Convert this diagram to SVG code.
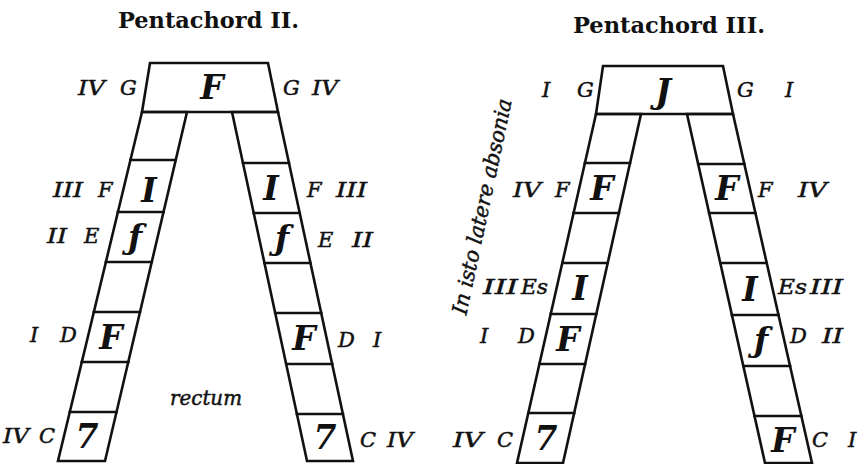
<svg xmlns="http://www.w3.org/2000/svg" width="868" height="464" viewBox="0 0 868 464">
<style>
.bg{fill:#fff}
.ln{fill:none;stroke:#111;stroke-width:2.6;stroke-linejoin:miter;stroke-linecap:square}
.title{font-family:"DejaVu Serif","Liberation Serif",serif;font-weight:bold;font-size:22px;fill:#111}
.lbl{font-family:"DejaVu Serif","Liberation Serif",serif;font-style:italic;font-size:21px;fill:#111;stroke:#111;stroke-width:0.5}
.gl{font-family:"DejaVu Serif","Liberation Serif",serif;font-style:italic;font-weight:bold;font-size:33px;fill:#111;text-anchor:middle}
</style>
<rect class="bg" x="0" y="0" width="868" height="464"/>

<g id="pentachord-II">
  <text class="title" x="118" y="28" textLength="181" lengthAdjust="spacingAndGlyphs">Pentachord II.</text>
  <g id="p2-frame">
    <polygon class="ln" points="150,63 268,63 278,112 142,112"/>
    <polygon class="ln" points="142,112 187,112 105,461 58,461"/>
    <polygon class="ln" points="232,112 278,112 353,461 307,461"/>
    <path class="ln" d="M130.4,160H175.7M117.9,212H163.5M105.9,262H151.8M93.9,312H140M81.8,362H128.3M69.8,412H116.5"/>
    <path class="ln" d="M243,163H289M253.7,213H299.7M264.4,263H310.4M275.2,313H321.2M286.2,364H332.2M296.9,414H342.9"/>
  </g>
  <g id="p2-glyphs">
    <text class="gl" x="212" y="99">F</text>
    <text class="gl" x="149" y="202">I</text>
    <text class="gl" x="135" y="249">ƒ</text>
    <text class="gl" x="111" y="349">F</text>
    <text class="gl" x="87" y="448">7</text>
    <text class="gl" x="271" y="200">I</text>
    <text class="gl" x="282" y="250">ƒ</text>
    <text class="gl" x="304" y="350">F</text>
    <text class="gl" x="325" y="449">7</text>
  </g>
  <g id="p2-labels">
    <text class="lbl" x="78" y="95" textLength="27" lengthAdjust="spacingAndGlyphs">IV</text>
    <text class="lbl" x="120" y="95">G</text>
    <text class="lbl" x="283" y="95">G</text>
    <text class="lbl" x="312" y="95" textLength="26" lengthAdjust="spacingAndGlyphs">IV</text>
    <text class="lbl" x="53" y="197" textLength="30" lengthAdjust="spacingAndGlyphs">III</text>
    <text class="lbl" x="98" y="197">F</text>
    <text class="lbl" x="307" y="197">F</text>
    <text class="lbl" x="336" y="197" textLength="31" lengthAdjust="spacingAndGlyphs">III</text>
    <text class="lbl" x="47" y="243" textLength="20" lengthAdjust="spacingAndGlyphs">II</text>
    <text class="lbl" x="84" y="243">E</text>
    <text class="lbl" x="318" y="247">E</text>
    <text class="lbl" x="352" y="247" textLength="21" lengthAdjust="spacingAndGlyphs">II</text>
    <text class="lbl" x="30" y="342">I</text>
    <text class="lbl" x="60" y="342">D</text>
    <text class="lbl" x="338" y="347">D</text>
    <text class="lbl" x="373" y="347">I</text>
    <text class="lbl" x="3" y="443" textLength="26" lengthAdjust="spacingAndGlyphs">IV</text>
    <text class="lbl" x="39" y="443">C</text>
    <text class="lbl" x="360" y="447">C</text>
    <text class="lbl" x="387" y="447" textLength="26" lengthAdjust="spacingAndGlyphs">IV</text>
    <text class="lbl" x="170" y="405" textLength="72" lengthAdjust="spacingAndGlyphs">rectum</text>
  </g>
</g>

<g id="pentachord-III">
  <text class="title" x="573" y="33" textLength="192" lengthAdjust="spacingAndGlyphs">Pentachord III.</text>
  <g id="p3-frame">
    <polygon class="ln" points="603,66 723,66 733,114 596,114"/>
    <polygon class="ln" points="596,114 641,114 563,463 517,463"/>
    <polygon class="ln" points="687,114 733,114 812,463 765,463"/>
    <path class="ln" d="M584.9,163H630M573.6,213H618.9M562.3,263H607.7M550.7,314H596.3M539.4,364H585.1M528.3,413H574.2"/>
    <path class="ln" d="M698.2,164H744.3M709.1,213H755.4M720.3,263H766.7M731.9,315H778.5M743.3,366H790.1M754.5,416H801.4"/>
  </g>
  <g id="p3-glyphs">
    <text class="gl" x="663" y="103">J</text>
    <text class="gl" x="602" y="200">F</text>
    <text class="gl" x="580" y="300">I</text>
    <text class="gl" x="568" y="351">F</text>
    <text class="gl" x="546" y="450">7</text>
    <text class="gl" x="727" y="200">F</text>
    <text class="gl" x="750" y="301">I</text>
    <text class="gl" x="761" y="352">ƒ</text>
    <text class="gl" x="783" y="452">F</text>
  </g>
  <g id="p3-labels">
    <text class="lbl" x="542" y="97">I</text>
    <text class="lbl" x="577" y="97">G</text>
    <text class="lbl" x="737" y="97">G</text>
    <text class="lbl" x="785" y="97">I</text>
    <text class="lbl" x="513" y="197" textLength="28" lengthAdjust="spacingAndGlyphs">IV</text>
    <text class="lbl" x="555" y="197">F</text>
    <text class="lbl" x="758" y="197">F</text>
    <text class="lbl" x="798" y="197" textLength="29" lengthAdjust="spacingAndGlyphs">IV</text>
    <text class="lbl" x="483" y="294" textLength="35" lengthAdjust="spacingAndGlyphs">III</text>
    <text class="lbl" x="521" y="294" textLength="27" lengthAdjust="spacingAndGlyphs">Es</text>
    <text class="lbl" x="778" y="294" textLength="29" lengthAdjust="spacingAndGlyphs">Es</text>
    <text class="lbl" x="810" y="294" textLength="33" lengthAdjust="spacingAndGlyphs">III</text>
    <text class="lbl" x="480" y="343">I</text>
    <text class="lbl" x="518" y="343">D</text>
    <text class="lbl" x="790" y="343">D</text>
    <text class="lbl" x="822" y="343" textLength="21" lengthAdjust="spacingAndGlyphs">II</text>
    <text class="lbl" x="453" y="447" textLength="30" lengthAdjust="spacingAndGlyphs">IV</text>
    <text class="lbl" x="497" y="447">C</text>
    <text class="lbl" x="812" y="447">C</text>
    <text class="lbl" x="848" y="447">I</text>
    <text class="lbl" x="489" y="208" text-anchor="middle" font-size="22" textLength="220" lengthAdjust="spacingAndGlyphs" transform="rotate(-78 489 208)">In isto latere absonia</text>
  </g>
</g>
</svg>
